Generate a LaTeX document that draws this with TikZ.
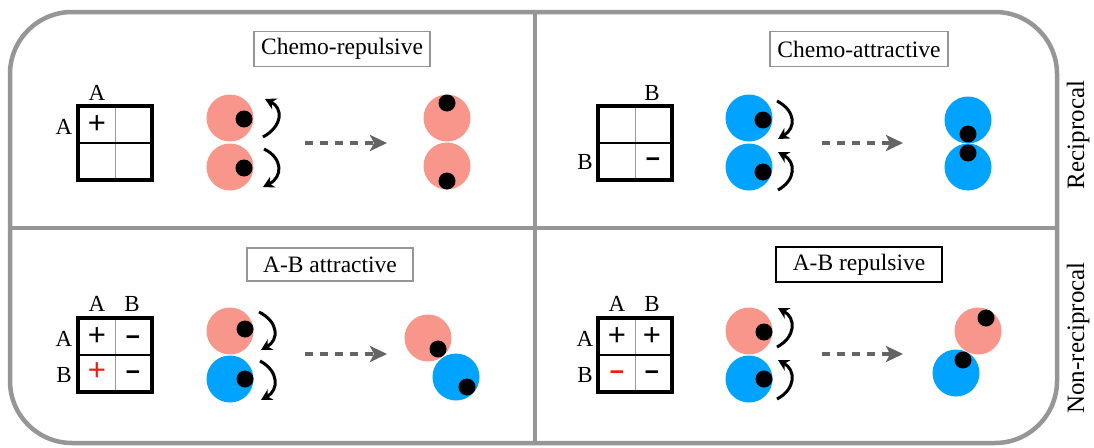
\documentclass[tikz,border=0pt]{standalone}
\usepackage{fontspec}
\setmainfont{Liberation Serif}
\newfontfamily\symfont{Liberation Sans}
\usetikzlibrary{arrows.meta}
\definecolor{framegray}{RGB}{150,150,150}
\definecolor{pinkc}{RGB}{249,150,139}
\definecolor{bluec}{RGB}{0,163,255}
\definecolor{dashgray}{RGB}{100,100,100}
\definecolor{signred}{RGB}{235,30,20}
\begin{document}
\begin{tikzpicture}[x=1pt,y=-1pt,
 outerframe/.style={draw=framegray,line width=4.5pt},
 titlebox/.style={draw=framegray,line width=1.3pt,font=\fontsize{23.5}{28}\selectfont,inner sep=0pt,minimum height=35pt},
 lbl/.style={font=\fontsize{23}{27}\selectfont,inner sep=0pt},
 plussign/.style={font=\symfont\fontsize{31}{34}\selectfont,inner sep=0pt,text height=0.7em,text depth=0pt},
 minussign/.style={font=\symfont\bfseries\fontsize{25}{28}\selectfont,inner sep=0pt,text height=0.7em,text depth=0pt},
 matout/.style={line width=3.5pt,draw=black},
 matvert/.style={line width=1pt,draw=gray!80},
 mathor/.style={line width=1.6pt,draw=black},
 pa/.style={circle,fill=pinkc,minimum size=47pt,inner sep=0pt},
 pb/.style={circle,fill=bluec,minimum size=47pt,inner sep=0pt},
 blackdot/.style={circle,fill=black,minimum size=17pt,inner sep=0pt},
 turnarrow/.style={line width=3pt,-{Stealth[length=11pt,width=12pt]}},
 flowarrow/.style={draw=dashgray,line width=4.5pt,dash pattern=on 8pt off 7pt,-{Stealth[length=17pt,width=16pt,inset=4pt]}},
 sidelabel/.style={font=\fontsize{25}{30}\selectfont,rotate=90,inner sep=0pt}]
\useasboundingbox (0,0) rectangle (1094,447);
% frame
\draw[outerframe,rounded corners=62pt] (10,12) rectangle (1057,443);
\draw[outerframe] (10,228) -- (1057,228);
\draw[outerframe] (535,12) -- (535,443);
\node[sidelabel] (rec) at (1078,135) {Reciprocal};
\node[sidelabel] (nrec) at (1078,338) {Non-reciprocal};
% titles
\node[titlebox,minimum width=176pt] (t1) at (342,49) {Chemo-repulsive};
\node[titlebox,minimum width=178pt] (t2) at (859,49) {Chemo-attractive};
\node[titlebox,minimum width=166pt,minimum height=33pt] (t3) at (330,264.5) {A-B attractive};
\node[titlebox,draw=black,line width=1.8pt,minimum width=166pt] (t4) at (859,264.5) {A-B repulsive};
% ---------- top-left
\draw[matvert] (115,106) -- (115,180);
\draw[mathor] (78,143) -- (152,143);
\draw[matout] (78,106) rectangle (152,180);
\node[lbl] (tlA1) at (97,93) {A};
\node[lbl] (tlA2) at (64,127) {A};
\node[plussign] (tlp) at (97,130) {+};
\node[pa] (tl1) at (230,118) {};
\node[pa] (tl2) at (230,167) {};
\node[blackdot] (tld1) at (244,119) {};
\node[blackdot] (tld2) at (244,168) {};
\coordinate (tla1) at (263,137); \coordinate (tla2) at (265,99);
\coordinate (tlb1) at (264,149); \coordinate (tlb2) at (263,187);
\draw[turnarrow] (tla1) .. controls (283,126) and (283,108) .. (tla2);
\draw[turnarrow] (tlb1) .. controls (283,158) and (283,177) .. (tlb2);
\coordinate (tlf1) at (305,143); \coordinate (tlf2) at (387,143);
\draw[flowarrow] (tlf1) -- (tlf2);
\node[pa] (tlr1) at (447,118) {};
\node[pa] (tlr2) at (447,166) {};
\node[blackdot] (tlrd1) at (447,103) {};
\node[blackdot] (tlrd2) at (447,181) {};
% ---------- top-right
\draw[matvert] (635,106) -- (635,180);
\draw[mathor] (598,143) -- (672,143);
\draw[matout] (598,106) rectangle (672,180);
\node[lbl] (trB1) at (652,93) {B};
\node[lbl] (trB2) at (585,162) {B};
\node[minussign] (trm) at (653,164) {−};
\node[pb] (tr1) at (749,118) {};
\node[pb] (tr2) at (749,167) {};
\node[blackdot] (trd1) at (763,120) {};
\node[blackdot] (trd2) at (763,172) {};
\coordinate (tra1) at (777,101); \coordinate (tra2) at (778,139);
\coordinate (trb1) at (778,190); \coordinate (trb2) at (778,152);
\draw[turnarrow] (tra1) .. controls (796,111) and (796,128) .. (tra2);
\draw[turnarrow] (trb1) .. controls (796,180) and (796,162) .. (trb2);
\coordinate (trf1) at (822,143); \coordinate (trf2) at (903,143);
\draw[flowarrow] (trf1) -- (trf2);
\node[pb] (trr1) at (968,120) {};
\node[pb] (trr2) at (968,167) {};
\node[blackdot] (trrd1) at (968,134) {};
\node[blackdot] (trrd2) at (968,153) {};
% ---------- bottom-left
\draw[matvert] (115,318) -- (115,392);
\draw[mathor] (78,355) -- (152,355);
\draw[matout] (78,318) rectangle (152,392);
\node[lbl] (blA1) at (97,304) {A};
\node[lbl] (blB1) at (132,304) {B};
\node[lbl] (blA2) at (64,339) {A};
\node[lbl] (blB2) at (64,375) {B};
\node[plussign] (blp1) at (97,342) {+};
\node[minussign] (blm1) at (133,342) {−};
\node[plussign,text=signred] (blp2) at (97,377) {+};
\node[minussign] (blm2) at (133,377) {−};
\node[pa] (bl1) at (230,331) {};
\node[pb] (bl2) at (230,379) {};
\node[blackdot] (bld1) at (245,329) {};
\node[blackdot] (bld2) at (245,379) {};
\coordinate (bla1) at (259,312); \coordinate (bla2) at (261,350);
\coordinate (blb1) at (260,361); \coordinate (blb2) at (261,400);
\draw[turnarrow] (bla1) .. controls (279,322) and (279,340) .. (bla2);
\draw[turnarrow] (blb1) .. controls (279,371) and (279,390) .. (blb2);
\coordinate (blf1) at (305,354); \coordinate (blf2) at (387,354);
\draw[flowarrow] (blf1) -- (blf2);
\node[pa] (blr1) at (428,338) {};
\node[pb] (blr2) at (456,377) {};
\node[blackdot] (blrd1) at (438,349) {};
\node[blackdot] (blrd2) at (467,387) {};
% ---------- bottom-right
\draw[matvert] (635,318) -- (635,392);
\draw[mathor] (598,355) -- (672,355);
\draw[matout] (598,318) rectangle (672,392);
\node[lbl] (brA1) at (617,304) {A};
\node[lbl] (brB1) at (652,304) {B};
\node[lbl] (brA2) at (585,339) {A};
\node[lbl] (brB2) at (585,375) {B};
\node[plussign] (brp1) at (617,342) {+};
\node[plussign] (brp2) at (652,342) {+};
\node[minussign,text=signred] (brm1) at (617,377) {−};
\node[minussign] (brm2) at (652,377) {−};
\node[pa] (br1) at (749,331) {};
\node[pb] (br2) at (749,379) {};
\node[blackdot] (brd1) at (764,332) {};
\node[blackdot] (brd2) at (764,379) {};
\coordinate (bra1) at (777,347); \coordinate (bra2) at (778,308);
\coordinate (brb1) at (777,399); \coordinate (brb2) at (778,360);
\draw[turnarrow] (bra1) .. controls (796,337) and (796,318) .. (bra2);
\draw[turnarrow] (brb1) .. controls (796,389) and (796,370) .. (brb2);
\coordinate (brf1) at (822,354); \coordinate (brf2) at (903,354);
\draw[flowarrow] (brf1) -- (brf2);
\node[pa] (brr1) at (978,331) {};
\node[pb] (brr2) at (956,373) {};
\node[blackdot] (brrd1) at (986,318) {};
\node[blackdot] (brrd2) at (963,360) {};
\end{tikzpicture}
\end{document}
